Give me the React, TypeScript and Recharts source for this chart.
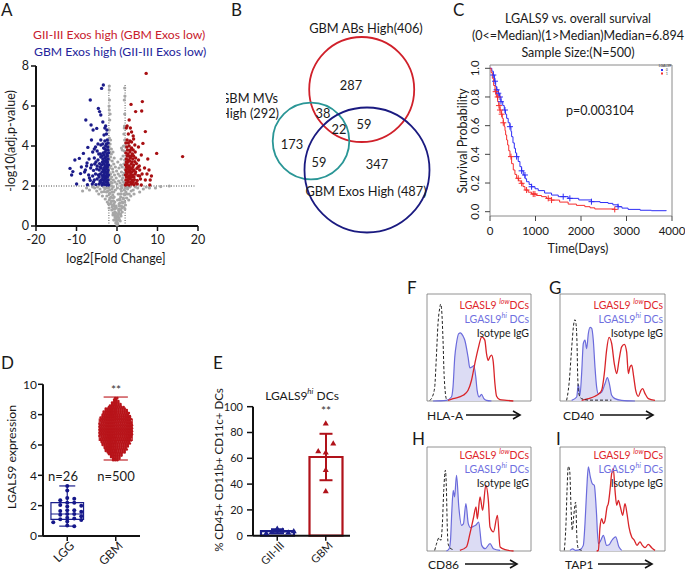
import React from "react";
import {
  ScatterChart,
  Scatter,
  ComposedChart,
  Line,
  Bar,
  Cell,
  ErrorBar,
  Area,
  XAxis,
  YAxis,
  ReferenceLine,
  ReferenceArea,
} from "recharts";

const W = 685;
const H = 575;
const FONT = "Lato, 'Open Sans', sans-serif";
const INK = "#1a1a1a";
const NAVY = "#1b1f8c";
const DARKRED = "#b0121a";

type Pt = [number, number];

// ---- A: volcano (log2 FC, -log10 adj p)
const volcanoGray: Pt[] = [
  [0, 0.05], [0.1, 0.15], [-0.1, 0.2], [0.2, 0.3], [-0.2, 0.35], [0.3, 0.45], [-0.3, 0.4], [0.35, 0.6],
  [-0.4, 0.55], [0.45, 0.7], [-0.5, 0.7], [0.55, 0.85], [-0.6, 0.85], [0.6, 1.0], [-0.65, 1.0], [0.7, 1.15],
  [-0.75, 1.1], [0.8, 1.3], [-0.85, 1.25], [0.9, 1.45], [-0.95, 1.4], [1.0, 1.6], [-1.05, 1.55], [1.1, 1.75],
  [-1.15, 1.7], [1.2, 1.9], [-1.25, 1.85], [1.3, 2.05], [-1.35, 2.0], [0.5, 0.4], [-0.5, 0.45], [0.7, 0.6],
  [-0.7, 0.65], [0.9, 0.8], [-0.9, 0.85], [1.1, 1.0], [-1.1, 1.05], [1.3, 1.2], [-1.3, 1.25], [1.5, 1.4],
  [-1.5, 1.45], [1.7, 1.6], [-1.7, 1.65], [1.8, 1.8], [-1.8, 1.8], [2.0, 1.9], [-2.0, 1.95], [2.2, 1.7],
  [-2.3, 1.75], [2.6, 1.85], [-2.7, 1.9], [3.2, 1.95], [-3.3, 1.95], [4, 1.8], [-4.2, 1.85], [5.1, 1.9],
  [-5.5, 1.9], [-8.5, 1.75], [-6.8, 1.8], [10.8, 1.97], [12.9, 2.0], [6.5, 1.85], [-3.2, 1.72], [3.0, 1.6],
  [-2.5, 1.5], [2.4, 1.4], [-1.9, 1.3], [1.9, 1.2], [-1.6, 1.1], [1.6, 0.95], [-1.3, 0.8], [1.3, 0.7],
  [-1.0, 0.55], [1.0, 0.5], [-0.8, 0.3], [0.8, 0.25], [0.2, 0.1], [-0.3, 0.15], [-1.8, 2.1], [-1.5, 2.2],
  [-1.2, 2.15], [-0.9, 2.3], [-0.5, 2.2], [0, 2.1], [0.4, 2.25], [0.8, 2.15], [1.2, 2.3], [1.6, 2.2],
  [1.9, 2.1], [-1.9, 2.5], [-1.6, 2.6], [-1.3, 2.45], [-1.0, 2.7], [-0.6, 2.55], [-0.2, 2.4], [0.3, 2.6],
  [0.7, 2.5], [1.1, 2.7], [1.5, 2.55], [1.85, 2.65], [-1.85, 2.9], [-1.5, 3.0], [-1.1, 2.85], [-0.8, 3.1],
  [-0.4, 2.95], [0.5, 2.9], [0.9, 3.05], [1.3, 2.95], [1.7, 3.1], [-1.9, 3.3], [-1.6, 3.45], [-1.2, 3.25],
  [-0.7, 3.4], [1.0, 3.35], [1.5, 3.5], [1.9, 3.3], [-1.8, 3.7], [-1.4, 3.85], [-1.0, 3.7], [1.3, 3.8],
  [1.8, 3.75], [1.6, 4.0], [-1.7, 4.1], [-1.9, 4.4], [1.9, 4.3], [1.7, 4.6], [-1.9, 4.8], [1.85, 5.0],
  [-1.8, 5.3], [-1.9, 5.8], [1.9, 5.6], [-1.85, 6.3], [-1.9, 6.8], [1.9, 6.9], [-0.15, 0.9], [0.15, 1.3],
  [0.05, 0.3], [-0.05, 0.5], [0.25, 0.55], [-0.25, 0.65], [0.4, 0.8], [-0.4, 0.9], [0.5, 1.1], [-0.55, 1.2],
  [0.65, 1.35], [-0.7, 1.45], [0.75, 1.6], [-0.8, 1.7], [0.9, 1.85], [-0.95, 1.95], [1.05, 2.0], [0.6, 0.3],
  [-0.6, 0.3], [0.9, 0.6], [-0.95, 0.65], [1.2, 0.9], [-1.2, 0.95], [1.4, 1.15], [-1.45, 1.2], [1.6, 1.35],
  [-1.65, 1.4], [1.9, 1.55], [-1.9, 1.6], [2.2, 1.95], [-2.2, 1.9], [2.5, 1.6], [-2.6, 1.7], [2.8, 1.95],
  [-3.0, 1.85], [3.5, 1.75], [-3.8, 1.7], [4.5, 1.95], [-4.8, 1.95], [-6.0, 1.95], [8, 1.9], [-0.2, 1.0],
  [0.3, 1.6], [-0.4, 1.8], [0.1, 1.9], [-1.6, 2.35], [1.4, 2.4], [-0.1, 2.75], [0.2, 3.2], [-1.4, 3.6],
  [1.1, 3.9], [-1.6, 4.3], [1.8, 4.9], [-1.7, 5.6], [1.8, 6.3], [-1.95, 6.0], [1.95, 6.5], [-1.9, 7.0],
  [1.9, 4.0], [-1.95, 3.95], [1.95, 2.85], [-1.95, 2.7],
  [-7.5, 1.9], [-5, 1.75], [-4.5, 1.6], [-3.6, 1.5], [-2.9, 1.35], [-2.4, 1.2], [2.9, 1.3], [3.4, 1.5],
  [4.2, 1.6], [5.6, 1.7], [7.2, 1.95], [9.5, 1.9], [-2.1, 1.1], [2.1, 1.05], [-1.95, 0.9], [1.95, 0.85],
];
const volcanoBlue: Pt[] = [
  [-2.1, 2.05], [-2.6, 2.05], [-3.1, 2.08], [-3.7, 2.05], [-4.4, 2.1], [-5.2, 2.07], [-6.1, 2.1], [-7.3, 2.06], [-9.97, 2.1],
  [-2.2, 2.3], [-2.5, 2.25], [-2.9, 2.35], [-3.3, 2.28], [-3.8, 2.32], [-4.2, 2.25], [-4.9, 2.35], [-5.6, 2.3], [-6.6, 2.28], [-8.2, 2.3],
  [-2.1, 2.55], [-2.45, 2.6], [-2.8, 2.5], [-3.2, 2.58], [-3.6, 2.52], [-4.1, 2.6], [-4.6, 2.55], [-5.3, 2.6], [-6.0, 2.5], [-7.0, 2.55], [-11.2, 2.55], [-9.0, 2.62],
  [-2.2, 2.8], [-2.6, 2.85], [-3.0, 2.78], [-3.4, 2.82], [-3.9, 2.9], [-4.4, 2.8], [-5.0, 2.85], [-5.8, 2.78], [-6.5, 2.9], [-7.8, 2.8], [-10.9, 2.72], [-11.6, 2.88], [-8.8, 2.95],
  [-2.1, 3.05], [-2.5, 3.1], [-2.9, 3.0], [-3.3, 3.1], [-3.8, 3.05], [-4.3, 3.12], [-4.9, 3.0], [-5.5, 3.1], [-6.3, 3.05], [-7.4, 3.15], [-10.4, 3.3], [-9.3, 3.38],
  [-2.2, 3.35], [-2.6, 3.3], [-3.0, 3.4], [-3.5, 3.35], [-4.0, 3.45], [-4.7, 3.3], [-5.6, 3.4], [-6.9, 3.35], [-8.3, 3.63],
  [-2.1, 3.65], [-2.5, 3.6], [-2.9, 3.7], [-3.4, 3.65], [-4.1, 3.6], [-4.9, 3.75], [-6.0, 3.7], [-7.2, 3.93],
  [-2.3, 3.95], [-2.8, 4.0], [-3.3, 3.9], [-4.0, 4.05], [-5.3, 3.95], [-2.4, 4.3], [-3.0, 4.25], [-4.0, 4.3], [-6.3, 4.3],
  [-2.6, 4.6], [-3.2, 4.55], [-5.0, 4.88], [-5.9, 4.8], [-6.4, 5.05], [-4.0, 5.55], [-7.7, 5.3], [-4.3, 5.72],
  [-4.6, 5.88], [-6.6, 6.3], [-3.8, 6.88], [-3.37, 7.05], [-2.8, 5.0], [-3.5, 5.2],
  [-2.3, 2.15], [-2.8, 2.2], [-3.4, 2.15], [-4.0, 2.18], [-2.35, 2.45], [-2.7, 2.4], [-3.1, 2.45], [-3.5, 2.42],
  [-4.4, 2.45], [-2.35, 2.7], [-2.75, 2.68], [-3.2, 2.72], [-3.7, 2.7], [-4.2, 2.95], [-2.35, 2.95], [-2.75, 3.0],
  [-3.15, 2.92], [-3.6, 3.2], [-2.35, 3.2], [-2.8, 3.2], [-3.2, 3.25], [-2.35, 3.5], [-2.75, 3.45], [-3.2, 3.55],
  [-3.7, 3.5], [-2.2, 3.8], [-2.6, 3.8], [-3.0, 3.85], [-2.2, 4.15], [-2.6, 4.1], [-3.5, 4.1], [-5.8, 2.2],
  [-6.8, 2.4], [-8.0, 2.7], [-7.5, 3.0], [-5.2, 3.2], [-4.5, 3.6], [-5.6, 3.85], [-4.7, 4.1], [-2.5, 4.8], [-3.0, 4.9],
];
const volcanoRed: Pt[] = [
  [2.1, 2.05], [2.5, 2.08], [3.0, 2.05], [3.6, 2.1], [4.2, 2.06], [5.0, 2.1], [6.0, 2.05], [8.2, 2.3],
  [2.2, 2.3], [2.7, 2.28], [3.2, 2.35], [3.7, 2.3], [4.3, 2.32], [5.0, 2.28], [5.8, 2.35], [7.0, 2.3],
  [2.1, 2.55], [2.5, 2.6], [2.9, 2.5], [3.4, 2.58], [3.9, 2.55], [4.5, 2.6], [5.2, 2.52], [6.2, 2.6], [8.5, 2.5],
  [2.2, 2.8], [2.6, 2.85], [3.1, 2.78], [3.6, 2.85], [4.2, 2.8], [4.9, 2.88], [5.6, 2.8], [7.9, 2.8], [6.8, 2.9],
  [2.1, 3.05], [2.5, 3.1], [3.0, 3.0], [3.5, 3.1], [4.1, 3.05], [4.8, 3.12], [5.5, 3.0],
  [2.3, 3.35], [2.8, 3.3], [3.3, 3.4], [3.9, 3.35], [4.6, 3.4], [7.6, 3.35], [5.3, 3.3],
  [2.2, 3.65], [2.7, 3.6], [3.2, 3.7], [3.8, 3.6], [4.5, 3.7], [9.8, 3.63], [16.2, 3.47], [6.0, 3.55],
  [2.4, 3.95], [3.0, 4.0], [3.6, 3.9], [4.4, 4.05], [5.3, 3.95], [2.5, 4.3], [3.2, 4.25], [4.1, 4.35], [6.4, 4.13],
  [2.8, 4.6], [3.6, 4.7], [7.0, 4.72], [2.3, 4.9], [3.0, 5.3], [6.1, 5.75], [4.6, 5.72], [3.46, 6.08],
  [6.26, 6.22], [7.2, 7.63], [4.0, 4.5],
  [2.3, 2.15], [2.8, 2.2], [3.4, 2.18], [4.0, 2.2], [4.7, 2.15], [2.35, 2.45], [2.75, 2.42], [3.15, 2.47],
  [3.6, 2.45], [4.2, 2.45], [5.6, 2.5], [2.35, 2.7], [2.8, 2.7], [3.3, 2.68], [3.8, 2.72], [4.6, 2.7],
  [2.35, 2.95], [2.75, 2.97], [3.2, 2.92], [3.9, 2.95], [5.2, 2.95], [2.3, 3.2], [2.7, 3.22], [3.1, 3.25],
  [3.7, 3.2], [4.4, 3.22], [2.5, 3.5], [2.9, 3.5], [3.5, 3.5], [4.1, 3.5], [2.6, 3.8], [3.3, 3.8], [4.0, 3.8],
  [2.2, 4.15], [2.8, 4.15], [3.6, 4.2], [2.5, 5.0], [3.3, 4.9], [8.1, 2.05], [7.4, 2.6],
];
const volcanoTicksX = [-20, -10, 0, 10, 20];
const volcanoTicksY = [0, 2, 4, 6, 8];
const fcCut = 2;
const pCut = 2;

// ---- B: Venn
const vennSets = ["GBM ABs High", "GBM MVs High", "GBM Exos High"];
const vennTotals = [406, 292, 487];
// AB only, AB∩MV, all three, AB∩Exo, MV only, MV∩Exo, Exo only
const vennRegions = [287, 38, 22, 59, 173, 59, 347];

// ---- C: Kaplan-Meier, LGALS9 groups (0 = low, 1 = high)
const survLow: Pt[] = [
  [0, 1.0], [40, 0.98], [73, 0.953], [100, 0.91], [124, 0.872], [150, 0.85], [183, 0.826], [210, 0.8],
  [241, 0.767], [280, 0.74], [314, 0.709], [340, 0.68], [366, 0.651], [400, 0.62], [439, 0.593], [460, 0.56],
  [475, 0.523], [505, 0.48], [534, 0.442], [560, 0.41], [585, 0.384], [620, 0.35], [658, 0.314], [695, 0.285],
  [731, 0.256], [770, 0.23], [804, 0.209], [860, 0.19], [914, 0.174], [990, 0.16], [1060, 0.147], [1200, 0.13],
  [1353, 0.116], [1500, 0.105], [1718, 0.093], [1950, 0.082], [2230, 0.07], [2420, 0.064], [2596, 0.058],
  [2700, 0.048], [2815, 0.035], [2900, 0.025], [3035, 0.016], [3300, 0.01], [3547, 0.007], [3876, 0.005],
];
const survHigh: Pt[] = [
  [0, 1.0], [25, 0.97], [51, 0.93], [80, 0.88], [110, 0.837], [140, 0.8], [168, 0.767], [195, 0.74],
  [219, 0.709], [245, 0.68], [270, 0.651], [292, 0.62], [314, 0.593], [330, 0.565], [344, 0.535], [366, 0.5],
  [388, 0.465], [412, 0.425], [439, 0.384], [475, 0.335], [512, 0.291], [548, 0.26], [585, 0.233], [630, 0.215],
  [680, 0.198], [725, 0.175], [768, 0.151], [840, 0.136], [914, 0.123], [1020, 0.113], [1133, 0.105],
  [1240, 0.093], [1353, 0.081], [1530, 0.067], [1718, 0.053], [1900, 0.044], [2084, 0.035], [2200, 0.027],
  [2303, 0.019], [2742, 0.016],
];
const censorLow: Pt[] = [
  [73, 0.953], [110, 0.91], [146, 0.85], [183, 0.826], [219, 0.8], [241, 0.767], [329, 0.709], [439, 0.593],
  [585, 0.384], [695, 0.285], [768, 0.256], [914, 0.174], [1609, 0.105], [1755, 0.093], [2230, 0.07], [2815, 0.035],
];
const censorHigh: Pt[] = [
  [124, 0.837], [168, 0.8], [197, 0.74], [219, 0.709], [256, 0.68], [292, 0.62], [461, 0.384], [621, 0.233],
  [695, 0.198], [804, 0.151], [950, 0.123], [987, 0.123], [1280, 0.093], [1353, 0.081], [2742, 0.016],
];
const survTicksX = [0, 1000, 2000, 3000, 4000];
const survTicksY = [0, 0.2, 0.4, 0.6, 0.8, 1.0];

// ---- D: LGALS9 expression
const dNames = ["LGG", "GBM"];
const lggValues = [
  3.3, 3.0, 2.5, 2.45, 2.35, 2.2, 2.2, 2.05, 2.0, 1.95, 1.7, 1.7, 1.65, 1.6, 1.45, 1.45, 1.4, 1.3, 1.2,
  1.15, 1.1, 1.05, 0.95, 0.9, 0.7, 0.65,
];
// GBM swarm: expression level -> number of dots in that row
const gbmBins: Pt[] = [
  [5.0, 3], [5.1, 4], [5.2, 5], [5.3, 6], [5.4, 7], [5.5, 9], [5.6, 10], [5.7, 11], [5.8, 11], [5.9, 12],
  [6.0, 13], [6.1, 14], [6.2, 14], [6.3, 15], [6.4, 15], [6.5, 15], [6.6, 16], [6.7, 16], [6.8, 16], [6.9, 16],
  [7.0, 16], [7.1, 16], [7.2, 16], [7.3, 16], [7.4, 16], [7.5, 15], [7.6, 15], [7.7, 15], [7.8, 15], [7.9, 14],
  [8.0, 13], [8.1, 13], [8.2, 12], [8.3, 11], [8.4, 10], [8.5, 8], [8.6, 6], [8.7, 5], [8.8, 4], [8.9, 3],
  [9.0, 2], [9.1, 2],
];
const lggBox = { min: 0.65, q1: 1.1, median: 1.45, q3: 2.2, max: 3.3 };
const gbmBox = { min: 5.01, q1: 6.3, median: 7.0, q3: 7.7, max: 9.16 };

// ---- E: % LGALS9 hi DCs
const eGroups = ["GII-III", "GBM"];
const eMeans = [3.5, 61];
const eSd = [1.5, 18];
const eGiiPts = [5.5, 4, 3, 2.5, 2, 3.5];
const eGbmPts = [87, 64.5, 71.5, 65.5, 51, 34.5];

// ---- F-I: flow histograms [channel, % of max]
const fIso: Pt[] = [[2.6, 0.6], [5.1, 3.8], [7.4, 13], [9, 41], [10.6, 72.5], [12.2, 86.6], [13.2, 90.6], [14.1, 85], [15.4, 57], [16.4, 25.6], [17.4, 10], [18.6, 2], [20.3, 0.6]];
const fHi: Pt[] = [[5.8, 0], [18.6, 0.6], [23.5, 3.75], [25, 13], [26.7, 41], [28.3, 53.75], [30.5, 63], [32.2, 63.75], [34.5, 61], [36.3, 57], [39.5, 41], [41.2, 31], [43.4, 31.9], [45, 33], [46.9, 22.5], [48.2, 10], [50.2, 3.75], [52.4, 6.25], [54.7, 2.2], [57.2, 0.6], [62, 0]];
const fLow: Pt[] = [[20.3, 0.6], [25.1, 2.2], [34.7, 5.3], [39.5, 10], [42.8, 19.4], [46, 35], [49.2, 49], [52.7, 60], [55.6, 56.9], [57.2, 44.4], [58.8, 38], [60.5, 41.2], [62.1, 42.8], [63.7, 36.6], [65.3, 16.3], [66.9, 4.4], [70.1, 1.25], [76.5, 0.6], [83, 0]];
const gIso: Pt[] = [[6.3, 0.6], [7.9, 10], [8.6, 16], [10.5, 41], [11.7, 57], [12.7, 69], [14.3, 76], [15.2, 72.5], [16.2, 53.75], [16.8, 25.6], [17.5, 10], [19, 3.75], [20.6, 2.2], [27, 0.8], [49, 0.8]];
const gHi: Pt[] = [[11.1, 0.6], [15.9, 3.75], [17.5, 15.6], [19, 5.3], [20.6, 25.6], [22.2, 53.75], [23.8, 56.9], [25.4, 49], [27, 63.1], [28.6, 68.75], [30.2, 67.8], [31.7, 56.9], [33.3, 31.9], [34.9, 13], [36.5, 6.9], [39.7, 8.4], [42.9, 16.3], [45.1, 21.9], [47, 16.3], [49.2, 5.3], [52.4, 2.2], [58.7, 0.6], [71.4, 0]];
const gLow: Pt[] = [[20.6, 0.6], [27, 2.2], [33.3, 4.4], [36.5, 6.25], [39.7, 10], [42.2, 25.6], [44.4, 47.5], [46.7, 59.4], [49.2, 53.75], [51.7, 35], [54, 25.6], [56.2, 38], [58.7, 50.6], [61.3, 53], [63.5, 45.6], [65.1, 25.6], [66.7, 31.9], [68.3, 33.4], [70.2, 22.5], [72.1, 10], [74.6, 4.4], [77.1, 10], [78.7, 11.6], [81, 6.9], [84.1, 2.2], [90.5, 0.6]];
const hIso: Pt[] = [[7.4, 0.6], [9, 6.4], [11.6, 12.8], [13.2, 10.3], [14.8, 26.3], [16.1, 58.3], [17.7, 77.6], [18.7, 58.3], [19.4, 26.3], [20.3, 7], [21.9, 3.2], [25.2, 1.3]];
const hHi: Pt[] = [[18.7, 0], [21.3, 2.2], [22.6, 10.3], [23.9, 39], [25.2, 58.3], [26.5, 52], [28.4, 72.8], [30.6, 42.3], [33.2, 24.7], [35, 26], [37.4, 45.5], [39.7, 26.3], [41.9, 22.4], [44.5, 23.7], [47.1, 25], [49.7, 27.9], [52.6, 5.4], [55.8, 2.2], [60.6, 7], [63.9, 2.2], [70.3, 0.6]];
const hLow: Pt[] = [[31.6, 0.6], [38, 4], [41.3, 16.7], [44.5, 31], [47.1, 42.3], [48.4, 31], [51, 52], [53.5, 39], [56.5, 63.1], [59, 48.7], [60.6, 23], [63.9, 18.3], [67.7, 34.3], [70.3, 3.8], [75.2, 1.3], [83.2, 0]];
const iIso: Pt[] = [[4.1, 0.6], [5.7, 26.3], [6.7, 58.3], [7.9, 81.4], [9.2, 77.6], [10.5, 42.3], [11.7, 19.9], [13, 32.7], [14, 42.3], [14.9, 47.1], [16.2, 10.3], [17.5, 2.2], [20.6, 0.6]];
const iHi: Pt[] = [[9.5, 0.6], [12, 2], [15, 0.6], [19, 1.3], [22.2, 5.4], [23.8, 26.3], [25.4, 58.3], [27, 80.8], [28.9, 71.2], [30.8, 64.7], [32.7, 63.1], [34.6, 39.1], [36.5, 7], [38.7, 10], [41.3, 15.1], [44.4, 5.4], [46.7, 6], [49.2, 10], [53, 13.5], [56.2, 3.8], [58.7, 0.6]];
const iLow: Pt[] = [[34.9, 0], [36.5, 0.6], [38.1, 23], [39.7, 31], [41.3, 26.3], [42.9, 29.5], [44.8, 42.3], [46, 45.5], [47.6, 58.3], [49.2, 74.4], [50.8, 79.2], [52.4, 58.3], [54, 43.9], [55.6, 48.7], [57.5, 42.3], [59.7, 34.3], [61.9, 45.5], [63.8, 35.9], [65.7, 23], [68.3, 13.5], [70.8, 10.3], [73.3, 5.4], [76.2, 8.7], [78.4, 5.4], [81, 3.2], [84.1, 6.4], [87.3, 3.2], [90.5, 0.6]];

// ---------- helpers
const toXY = (pts: Pt[]) => pts.map(([x, y]) => ({ x, y }));
const toTS = (pts: Pt[]) => pts.map(([t, s]) => ({ t, s }));

// simple beeswarm: push a dot sideways until it clears its neighbours
function swarm(values: number[], minGap: number, step: number) {
  const placed: { v: number; dx: number }[] = [];
  return values.map((v) => {
    for (let k = 0; ; k++) {
      const dx = k === 0 ? 0 : (k % 2 ? 1 : -1) * Math.ceil(k / 2) * step;
      if (!placed.some((p) => p.dx === dx && Math.abs(p.v - v) < minGap)) {
        placed.push({ v, dx });
        return dx;
      }
    }
  });
}

function mergeCurves(iso: Pt[], hi: Pt[], low: Pt[]) {
  const xs = Array.from(new Set([...iso, ...hi, ...low].map((p) => p[0]))).sort((a, b) => a - b);
  const mi = new Map(iso), mh = new Map(hi), ml = new Map(low);
  return xs.map((x) => ({ x, iso: mi.get(x) ?? null, hi: mh.get(x) ?? null, low: ml.get(x) ?? null }));
}

const margin = (l: number, t: number, r: number, b: number, yW = 0, xH = 0) => ({
  left: l - yW, top: t, right: W - r, bottom: H - b - xH,
});

const dot = (fill: string, r: number) => (p: any) =>
  <circle cx={p.cx + (p.payload?.dx ?? 0)} cy={p.cy} r={r} fill={fill} />;

const tri = (fill: string, s: number) => (p: any) => {
  const x = p.cx + (p.payload?.dx ?? 0), y = p.cy;
  return <path d={`M${x},${y - s} L${x + s * 0.95},${y + s * 0.65} L${x - s * 0.95},${y + s * 0.65} Z`} fill={fill} />;
};

const cross = (stroke: string) => (p: any) =>
  <path d={`M${p.cx - 3},${p.cy} h6 M${p.cx},${p.cy - 3} v6`} stroke={stroke} strokeWidth={1} />;

const rotX = (p: any, label: (v: any) => string, s: number) => (
  <text x={p.x} y={p.y} dx={3} dy={8} transform={`rotate(-45 ${p.x} ${p.y})`} textAnchor="end"
    fontSize={s} fill={INK} fontFamily={FONT}>{label(p.payload.value)}</text>
);

const rotY = (p: any) => (
  <text x={p.x} y={p.y} transform={`rotate(-90 ${p.x} ${p.y})`} textAnchor="middle"
    fontSize={11.5} fill={INK} fontFamily={FONT}>{Number(p.payload.value).toFixed(1)}</text>
);

const Layer = ({ children }: any) => <div style={{ position: "absolute", left: 0, top: 0 }}>{children}</div>;

const axisBold = { stroke: "#111", strokeWidth: 2 };
const tickBold = { stroke: "#111", strokeWidth: 1.5 };
const tickText = (s: number) => ({ fontSize: s, fill: INK, fontFamily: FONT });

function T({ x, y, s = 11, c = INK, a = "middle", rot, children }: any) {
  return (
    <text x={x} y={y} fontSize={s} fill={c} textAnchor={a} dominantBaseline="central" fontFamily={FONT}
      transform={rot ? `rotate(${rot} ${x} ${y})` : undefined}>{children}</text>
  );
}

function Arrow({ x1, x2, y }: any) {
  return (
    <g stroke="#111" strokeWidth={1.6} fill="none">
      <line x1={x1} y1={y} x2={x2} y2={y} />
      <path d={`M${x2 - 7},${y - 4} L${x2},${y} L${x2 - 7},${y + 4}`} />
    </g>
  );
}

function FlowPanel({ l, t, r, b, iso, hi, low }: any) {
  const rows = mergeCurves(iso, hi, low);
  return (
    <Layer>
      <ComposedChart width={W} height={H} data={rows} margin={margin(l, t, r, b)}>
        <XAxis type="number" dataKey="x" domain={[0, 100]} ticks={[17, 34, 51, 68, 85]} tick={false}
          tickSize={3} height={0} mirror axisLine={{ stroke: "#444" }} tickLine={{ stroke: "#444" }} />
        <YAxis type="number" domain={[0, 100]} ticks={[15, 31, 47, 64, 80]} tick={false}
          tickSize={3} width={0} mirror axisLine={{ stroke: "#444" }} tickLine={{ stroke: "#444" }} />
        <ReferenceArea x1={0} x2={100} y1={0} y2={100} fill="none" stroke="#777" strokeWidth={0.8} />
        <Area dataKey="hi" type="monotone" stroke="#6b6bdc" strokeWidth={1.2} fill="#dcdcf4" fillOpacity={1}
          connectNulls dot={false} activeDot={false} isAnimationActive={false} />
        <Line dataKey="low" type="monotone" stroke="#d92429" strokeWidth={1.3} dot={false} activeDot={false}
          connectNulls isAnimationActive={false} />
        <Line dataKey="iso" type="monotone" stroke="#222" strokeWidth={1} strokeDasharray="3 2" dot={false}
          activeDot={false} connectNulls isAnimationActive={false} />
      </ComposedChart>
    </Layer>
  );
}

function FlowLegend({ x, y }: any) {
  return (
    <g>
      <text x={x} y={y} fontSize={10.5} fill="#e0262b" textAnchor="end" dominantBaseline="central" fontFamily={FONT}>
        LGASL9 <tspan fontSize={7} fontStyle="italic" dy={-4}>low</tspan><tspan dy={4}>DCs</tspan>
      </text>
      <text x={x} y={y + 14} fontSize={10.5} fill="#6f6fe0" textAnchor="end" dominantBaseline="central" fontFamily={FONT}>
        LGASL9<tspan fontSize={7} fontStyle="italic" dy={-4}>hi</tspan><tspan dy={4}> DCs</tspan>
      </text>
      <T x={x} y={y + 28} s={10.5} a="end">Isotype IgG</T>
    </g>
  );
}

export default function App() {
  const gray = toXY(volcanoGray), blue = toXY(volcanoBlue), red = toXY(volcanoRed);

  const vennLayout = [
    { cx: 151.7, cy: 89.5, r: 52.5, color: "#d0202a" },
    { cx: 101, cy: 141, r: 38.3, color: "#2a9696" },
    { cx: 157, cy: 170, r: 62.5, color: "#1a1a80" },
  ];
  const vennData = vennSets.map((name, i) => ({ name, n: vennTotals[i], x: vennLayout[i].cx, y: vennLayout[i].cy, ...vennLayout[i] }));

  const lggDx = swarm(lggValues, 0.25, 7);
  const lggDots = lggValues.map((y, i) => ({ x: 1, y, dx: lggDx[i] }));
  const gbmDots = gbmBins.flatMap(([y, n], row) =>
    Array.from({ length: n }, (_, i) => ({ x: 2, y, dx: (i - (n - 1) / 2) * 2.1 + (row % 2 ? 0.5 : -0.5) })));

  const eRows = eGroups.map((group, i) => ({ group, mean: eMeans[i], sd: eSd[i] }));
  const giiDx = swarm(eGiiPts, 8, 5.5);
  const gbmDx = swarm(eGbmPts, 8, 7.5);
  const eGii = eGiiPts.map((v, i) => ({ group: eGroups[0], v, dx: giiDx[i] }));
  const eGbm = eGbmPts.map((v, i) => ({ group: eGroups[1], v, dx: gbmDx[i] }));

  const boxLines = (b: any, c: number, half: number, cap: number, color: string) => (
    <>
      <ReferenceArea x1={c - half} x2={c + half} y1={b.q1} y2={b.q3} fill="none" stroke={color} strokeWidth={1.2} />
      <ReferenceLine segment={[{ x: c - half, y: b.median }, { x: c + half, y: b.median }]} stroke={color} strokeWidth={1.2} />
      <ReferenceLine segment={[{ x: c, y: b.q3 }, { x: c, y: b.max }]} stroke={color} strokeWidth={1.2} />
      <ReferenceLine segment={[{ x: c, y: b.min }, { x: c, y: b.q1 }]} stroke={color} strokeWidth={1.2} />
      <ReferenceLine segment={[{ x: c - cap, y: b.max }, { x: c + cap, y: b.max }]} stroke={color} strokeWidth={1.2} />
      <ReferenceLine segment={[{ x: c - cap, y: b.min }, { x: c + cap, y: b.min }]} stroke={color} strokeWidth={1.2} />
    </>
  );

  return (
    <div style={{ position: "absolute", left: 0, top: 0, width: W, height: H, background: "#fff" }}>
      {/* A */}
      <Layer>
        <ScatterChart width={W} height={H} margin={margin(36, 66, 198, 226, 36, 30)}>
          <XAxis type="number" dataKey="x" domain={[-20, 20]} ticks={volcanoTicksX} height={30}
            axisLine={axisBold} tickLine={tickBold} tickSize={5} tickMargin={4} tick={tickText(12.5)} />
          <YAxis type="number" dataKey="y" domain={[0, 8]} ticks={volcanoTicksY} width={36}
            axisLine={axisBold} tickLine={tickBold} tickSize={5} tickMargin={2} tick={tickText(12.5)} />
          <Scatter data={gray} shape={dot("#a6a6a6", 1.6)} isAnimationActive={false} />
          <Scatter data={blue} shape={dot("#1c1c8a", 1.7)} isAnimationActive={false} />
          <Scatter data={red} shape={dot("#a80f12", 1.7)} isAnimationActive={false} />
          <ReferenceLine segment={[{ x: -fcCut, y: 0 }, { x: -fcCut, y: 7.1 }]} stroke="#555" strokeDasharray="1 1.5" />
          <ReferenceLine segment={[{ x: fcCut, y: 0 }, { x: fcCut, y: 7.1 }]} stroke="#555" strokeDasharray="1 1.5" />
          <ReferenceLine segment={[{ x: -20, y: pCut }, { x: 19.3, y: pCut }]} stroke="#444" strokeDasharray="1 1.5" />
        </ScatterChart>
      </Layer>

      {/* B */}
      <Layer>
        <ScatterChart width={W} height={H} margin={margin(210, 0, 440, 250)}>
          <XAxis type="number" dataKey="x" domain={[0, 230]} hide />
          <YAxis type="number" dataKey="y" domain={[0, 250]} reversed hide />
          <Scatter data={vennData} isAnimationActive={false}
            shape={(p: any) => <circle cx={p.cx} cy={p.cy} r={p.payload.r} fill="none" stroke={p.payload.color} strokeWidth={1.8} />} />
        </ScatterChart>
      </Layer>

      {/* C */}
      <Layer>
        <ComposedChart width={W} height={H} margin={margin(490, 65, 672, 216, 30, 30)}>
          <XAxis type="number" dataKey="t" domain={[0, 4000]} ticks={survTicksX} height={30}
            axisLine={false} tickLine={{ stroke: "#444" }} tickSize={5} tickMargin={6} tick={tickText(11.5)} />
          <YAxis type="number" domain={[-0.03, 1.023]} ticks={survTicksY} width={30} allowDataOverflow
            axisLine={false} tickLine={{ stroke: "#444" }} tickSize={5} tickMargin={6} tick={rotY} />
          <ReferenceArea x1={0} x2={4000} y1={-0.03} y2={1.023} fill="none" stroke="#8a8a8a" strokeWidth={1} />
          <Line data={toTS(survLow)} dataKey="s" type="stepAfter" stroke="#2e2ef5" strokeWidth={1} dot={false}
            activeDot={false} isAnimationActive={false} />
          <Line data={toTS(survHigh)} dataKey="s" type="stepAfter" stroke="#f52e2e" strokeWidth={1} dot={false}
            activeDot={false} isAnimationActive={false} />
          <Scatter data={toTS(censorLow)} dataKey="s" shape={cross("#2e2ef5")} isAnimationActive={false} />
          <Scatter data={toTS(censorHigh)} dataKey="s" shape={cross("#f52e2e")} isAnimationActive={false} />
        </ComposedChart>
      </Layer>

      {/* D */}
      <Layer>
        <ScatterChart width={W} height={H} margin={margin(43, 384.3, 140, 536, 30, 30)}>
          <XAxis type="number" dataKey="x" domain={[0.5, 2.5]} ticks={[1, 2]} height={30}
            axisLine={axisBold} tickLine={tickBold} tickSize={5}
            tick={(p: any) => rotX(p, (v) => dNames[v - 1], 12)} />
          <YAxis type="number" dataKey="y" domain={[0, 10]} ticks={[0, 2, 4, 6, 8, 10]} width={30}
            axisLine={axisBold} tickLine={tickBold} tickSize={5} tickMargin={1} tick={tickText(12)} />
          {boxLines(gbmBox, 2, 0.34, 0.25, "#c0262b")}
          <Scatter data={gbmDots} shape={dot("#b8141a", 1.3)} isAnimationActive={false} />
          {boxLines(lggBox, 1, 0.336, 0.165, NAVY)}
          <Scatter data={lggDots} shape={dot("#15178a", 2)} isAnimationActive={false} />
        </ScatterChart>
      </Layer>

      {/* E */}
      <Layer>
        <ComposedChart width={W} height={H} data={eRows} margin={margin(253, 406.7, 350, 535.7, 30, 30)}>
          <XAxis dataKey="group" type="category" allowDuplicatedCategory={false} height={30}
            axisLine={axisBold} tickLine={tickBold} tickSize={5} tick={(p: any) => rotX(p, (v) => String(v), 11)} />
          <YAxis type="number" domain={[0, 100]} ticks={[0, 20, 40, 60, 80, 100]} width={30}
            axisLine={axisBold} tickLine={tickBold} tickSize={6} tickMargin={4} tick={tickText(11)} />
          <Bar dataKey="mean" barSize={33} fill="#fff" strokeWidth={2.2} isAnimationActive={false}>
            {eRows.map((r, i) => <Cell key={r.group} stroke={i === 0 ? NAVY : DARKRED} />)}
            <ErrorBar dataKey={(d: any) => (d.group === "GBM" ? d.sd : null)} width={6.5} stroke={DARKRED} strokeWidth={2} />
            <ErrorBar dataKey={(d: any) => (d.group === "GII-III" ? d.sd : null)} width={6.5} stroke={NAVY} strokeWidth={2} />
          </Bar>
          <Scatter data={eGii} dataKey="v" shape={tri(NAVY, 3.2)} isAnimationActive={false} />
          <Scatter data={eGbm} dataKey="v" shape={tri(DARKRED, 3.2)} isAnimationActive={false} />
        </ComposedChart>
      </Layer>

      {/* F-I */}
      <FlowPanel l={427} t={294} r={531} b={401} iso={fIso} hi={fHi} low={fLow} />
      <FlowPanel l={560} t={294} r={665} b={401} iso={gIso} hi={gHi} low={gLow} />
      <FlowPanel l={427} t={447} r={531} b={551} iso={hIso} hi={hHi} low={hLow} />
      <FlowPanel l={560} t={447} r={665} b={551} iso={iIso} hi={iHi} low={iLow} />

      {/* text overlay */}
      <svg width={W} height={H} style={{ position: "absolute", left: 0, top: 0, pointerEvents: "none" }}>
        <defs>
          <clipPath id="clipB"><rect x={226} y={0} width={200} height={250} /></clipPath>
        </defs>
        {/* A */}
        <T x={1} y={9} s={17} a="start">A</T>
        <T x={33} y={34} s={12.2} a="start" c="#c8202c">GII-III Exos high (GBM Exos low)</T>
        <T x={34} y={51} s={12.2} a="start" c="#23239a">GBM Exos high (GII-III Exos low)</T>
        <T x={10} y={141} s={12.5} rot={-90}>-log10(adj.p-value)</T>
        <T x={116} y={258} s={12.5}>log2[Fold Change]</T>

        {/* B */}
        <T x={231} y={9} s={17} a="start">B</T>
        <T x={366} y={28} s={12.8}>{`${vennSets[0]}(${vennTotals[0]})`}</T>
        <g clipPath="url(#clipB)">
          <T x={278} y={98} s={12.8} a="end">GBM MVs</T>
          <T x={279} y={113} s={12.8} a="end">{`High (${vennTotals[1]})`}</T>
        </g>
        <T x={351} y={85} s={12.8}>{vennRegions[0]}</T>
        <T x={323} y={113} s={12.8}>{vennRegions[1]}</T>
        <T x={339} y={129} s={12.8}>{vennRegions[2]}</T>
        <T x={364} y={124} s={12.8}>{vennRegions[3]}</T>
        <T x={292} y={144} s={12.8}>{vennRegions[4]}</T>
        <T x={319} y={162} s={12.8}>{vennRegions[5]}</T>
        <T x={377} y={164} s={12.8}>{vennRegions[6]}</T>
        <T x={366} y={191} s={12.8}>{`${vennSets[2]} (${vennTotals[2]})`}</T>

        {/* C */}
        <T x={453} y={9} s={17} a="start">C</T>
        <T x={578} y={18} s={12.5}>LGALS9 vs. overall survival</T>
        <T x={578} y={35} s={12.5}>{"(0<=Median)(1>Median)Median=6.894"}</T>
        <T x={578} y={52} s={12.5}>Sample Size:(N=500)</T>
        <T x={600} y={110} s={12.5}>p=0.003104</T>
        <T x={462} y={141} s={12.5} rot={-90}>Survival Probability</T>
        <T x={578} y={248} s={12.5}>Time(Days)</T>
        <T x={665} y={66} s={3.5}>LGALS9</T>
        <rect x={661} y={69} width={2} height={2} fill="#2e2ef5" />
        <rect x={661} y={72.5} width={2} height={2} fill="#f52e2e" />
        <T x={666} y={70} s={3} a="start">0</T>
        <T x={666} y={73.5} s={3} a="start">1</T>

        {/* D */}
        <T x={1} y={362} s={17} a="start">D</T>
        <T x={11} y={457} s={12.3} rot={-90}>LGALS9 expression</T>
        <T x={116} y={389} s={12} c="#333">**</T>
        <T x={63} y={476} s={13}>n=26</T>
        <T x={116} y={476} s={13}>n=500</T>

        {/* E */}
        <T x={213} y={362} s={17} a="start">E</T>
        <text x={302} y={395} fontSize={12} fill={INK} textAnchor="middle" dominantBaseline="central" fontFamily={FONT}>
          LGALS9<tspan fontSize={8} fontStyle="italic" dy={-4}>hi</tspan><tspan dy={4}> DCs</tspan>
        </text>
        <T x={326} y={410} s={12} c="#333">**</T>
        <T x={218} y={470} s={11.5} rot={-90}>% CD45+ CD11b+ CD11c+ DCs</T>

        {/* F-I */}
        <T x={407} y={287} s={17} a="start">F</T>
        <T x={549} y={287} s={17} a="start">G</T>
        <T x={412} y={438} s={17} a="start">H</T>
        <T x={556} y={438} s={17} a="start">I</T>
        <FlowLegend x={529} y={305} />
        <FlowLegend x={663} y={305} />
        <FlowLegend x={529} y={455} />
        <FlowLegend x={663} y={455} />
        <T x={427} y={415} s={12} a="start">HLA-A</T>
        <Arrow x1={466} x2={520} y={415} />
        <T x={563} y={415} s={12} a="start">CD40</T>
        <Arrow x1={600} x2={653} y={415} />
        <T x={428} y={564} s={12} a="start">CD86</T>
        <Arrow x1={465} x2={517} y={564} />
        <T x={565} y={564} s={12} a="start">TAP1</T>
        <Arrow x1={598} x2={652} y={564} />
      </svg>
    </div>
  );
}
